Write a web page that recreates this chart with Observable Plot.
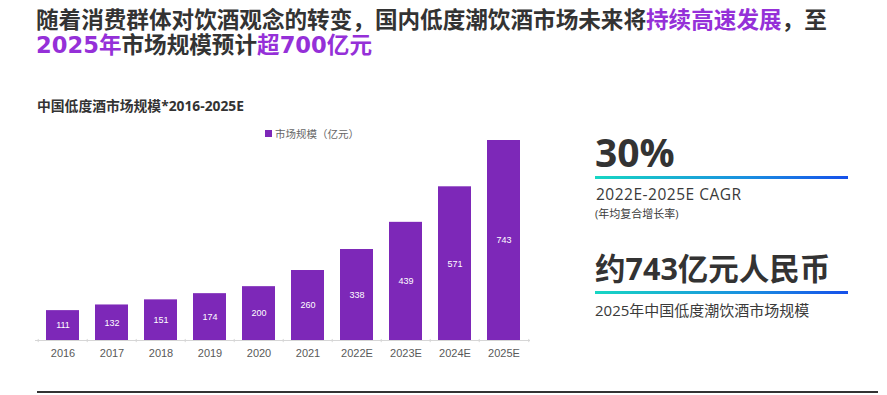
<!DOCTYPE html>
<html>
<head>
<meta charset="utf-8">
<script src="https://cdn.jsdelivr.net/npm/d3@7"></script>
<script src="https://cdn.jsdelivr.net/npm/@observablehq/plot@0.6"></script>
<style>
  body { margin: 0; background: #fff; }
  #wrap { position: relative; width: 887px; height: 395px; overflow: hidden; background: #fff; }
  #wrap svg { position: absolute; left: 0; top: 0; }
  .t { position: absolute; white-space: nowrap; color: #333; font-family: "Noto Sans CJK SC", sans-serif; }
  .p { color: #9530d8; }
  .grad { position: absolute; height: 3px; background: linear-gradient(to right, #17d6c3, #1a8fe0 60%, #1650ea); }
</style>
</head>
<body>
<div id="wrap">
  <div class="t" style="left:36px;top:8px;font-size:22.6px;line-height:25px;font-weight:700;font-family:'DejaVu Sans','Noto Sans CJK SC',sans-serif;color:#333;">随着消费群体对饮酒观念的转变，国内低度潮饮酒市场未来将<span class="p">持续高速发展</span>，至<br><span class="p">2025年</span>市场规模预计<span class="p">超700亿元</span></div>
  <div class="t" style="left:37px;top:95px;font-size:13.8px;font-weight:700;font-family:'Open Sans','Noto Sans CJK SC',sans-serif;color:#333;">中国低度酒市场规模*2016-2025E</div>
  <div class="t" style="left:265px;top:126px;font-size:10.5px;color:#666;"><span style="display:inline-block;width:7px;height:7px;background:#7d28b8;margin-right:3px;vertical-align:1px;"></span>市场规模（亿元）</div>
  <div class="t" style="left:595px;top:129px;font-size:39px;line-height:46px;font-weight:700;font-family:'Open Sans','Noto Sans CJK SC',sans-serif;color:#333;">30%</div>
  <div class="grad" style="left:595px;top:176px;width:253px;"></div>
  <div class="t" style="left:596px;top:183px;font-size:15.5px;letter-spacing:0.5px;font-family:'Open Sans','Noto Sans CJK SC',sans-serif;color:#3a3a3a;">2022E-2025E CAGR</div>
  <div class="t" style="left:595px;top:205px;font-size:11px;font-family:'Open Sans','Noto Sans CJK SC',sans-serif;color:#3a3a3a;">(年均复合增长率)</div>
  <div class="t" style="left:595px;top:248px;font-size:30.5px;line-height:40px;font-weight:700;font-family:'Open Sans','Noto Sans CJK SC',sans-serif;color:#333;">约743亿元人民币</div>
  <div class="grad" style="left:595px;top:291px;width:253px;"></div>
  <div class="t" style="left:595px;top:299px;font-size:15px;font-family:'Open Sans','Noto Sans CJK SC',sans-serif;color:#3a3a3a;">2025年中国低度潮饮酒市场规模</div>
  <div style="position:absolute;left:37px;top:391px;width:841px;height:2px;background:#333;"></div>
</div>
<script>
const years = ["2016","2017","2018","2019","2020","2021","2022E","2023E","2024E","2025E"];
const values = [111, 132, 151, 174, 200, 260, 338, 439, 571, 743];
const barColor = "#7d28b8";

const data = years.map((y, i) => ({year: y, value: values[i]}));
const padIn = 0.335, padOut = 0.16;
const left = 35, right = 530;
const step = (right - left) / (years.length - padIn + 2 * padOut);

const chart = Plot.plot({
  width: 887,
  height: 395,
  marginLeft: left,
  marginRight: 887 - right,
  marginTop: 140,
  marginBottom: 55,
  style: {fontFamily: "'Liberation Sans', Arial, sans-serif", background: "transparent", overflow: "visible"},
  x: {domain: years, paddingInner: padIn, paddingOuter: padOut, label: null},
  y: {domain: [0, 743], axis: null},
  marks: [
    Plot.barY(data, {x: "year", y: "value", fill: barColor}),
    Plot.ruleY([0], {stroke: "#d6d6d6", strokeWidth: 1}),
    Plot.ruleX(years, {x: d => d, dx: -step / 2, y1: -8, y2: 4, stroke: "#d6d6d6"}),
    Plot.ruleX([years[years.length - 1]], {x: d => d, dx: step / 2, y1: -8, y2: 4, stroke: "#d6d6d6"}),
    Plot.text(data, {x: "year", y: d => d.value / 2, text: d => String(d.value), fill: "white", fontSize: 9}),
    Plot.axisX({tickSize: 0, tickPadding: 9, fontSize: 11, fill: "#595959", label: null})
  ]
});
document.getElementById("wrap").prepend(chart);
</script>
</body>
</html>
